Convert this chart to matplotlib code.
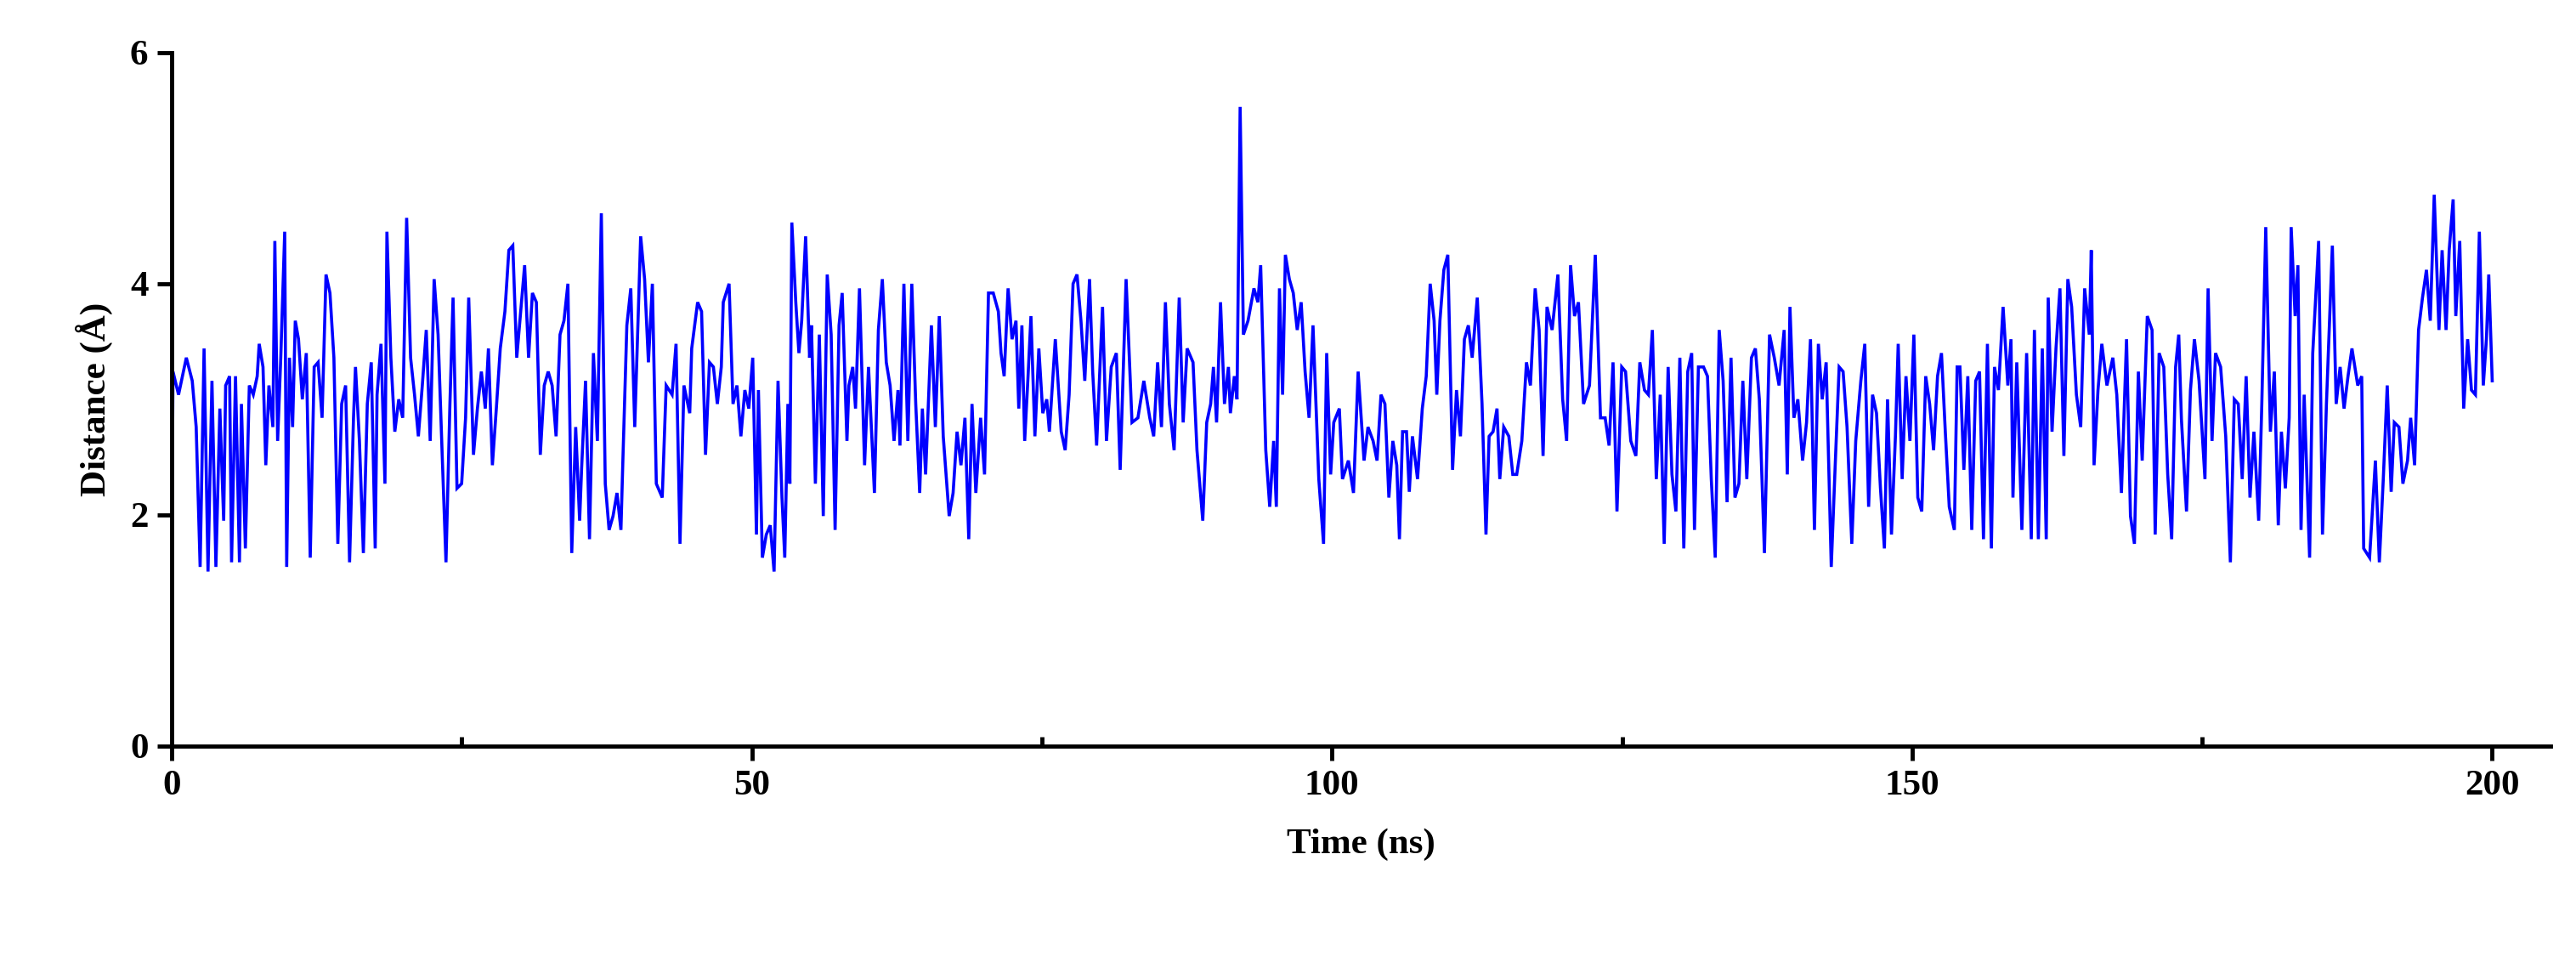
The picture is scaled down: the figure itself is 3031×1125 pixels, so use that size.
import matplotlib
matplotlib.use("Agg")
import matplotlib.pyplot as plt
from matplotlib.ticker import MultipleLocator

time_seg1 = [
0,0.1,0.58,1.25,1.76,2.1,2.44,2.78,3.12,3.46,3.8,4.14,4.47,4.64,4.98,5.15,5.49,5.83,6.0,6.34,6.68,7.02,7.36,7.53,7.86,8.1,8.37,8.71,8.88,9.12,9.39,9.73,9.9,10.14,10.41,10.64,10.92,11.25,11.59,11.93,12.27,12.61,12.95,13.29,13.63,13.97,14.31,14.64,14.98,15.32,15.66,15.83,16.17,16.51,16.85,17.19,17.53,17.69,18.03,18.37,18.54,18.88,19.22,19.56,19.9,20.24,20.58,20.92,21.25,21.59,21.93,22.27,22.61,22.95,23.29,23.63,23.97,24.24,24.58,24.98,25.32,25.59,26.0,26.34,26.68,27.02,27.29,27.63,27.97,28.31,28.71,29.05,29.39,29.73,30.07,30.41,30.75,31.08,31.42,31.76,32.1,32.44,32.78,33.12,33.46,33.8,34.14,34.47,34.81,35.15,35.32,35.66,36.0,36.34,36.68,37.02,37.36,37.69,38.03,38.37,38.71,38.88,39.22,39.56,39.9,40.41,40.75,41.08,41.42,41.76,42.27,42.61,43.12,43.46,43.8,44.14,44.64,44.81,45.32,45.66,46.0,46.34,46.68,47.02,47.36,47.53,48.03,48.37,48.71,49.05,49.39,49.73,50.07]
dist_seg1 = [
1.55,3.24,3.04,3.36,3.16,2.76,1.55,3.44,1.51,3.16,1.55,2.92,1.95,3.12,3.2,1.59,3.2,1.59,2.96,1.71,3.12,3.04,3.2,3.48,3.28,2.43,3.12,2.76,4.37,2.64,3.36,4.45,1.55,3.36,2.76,3.68,3.52,3.0,3.4,1.63,3.28,3.32,2.84,4.08,3.92,3.36,1.75,2.96,3.12,1.59,2.84,3.28,2.64,1.67,2.96,3.32,1.71,3.04,3.48,2.27,4.45,3.36,2.72,3.0,2.84,4.57,3.36,3.04,2.68,3.12,3.6,2.64,4.04,3.56,2.56,1.59,2.96,3.88,2.23,2.27,2.84,3.88,2.52,2.92,3.24,2.92,3.44,2.43,2.92,3.44,3.76,4.29,4.33,3.36,3.76,4.16,3.36,3.92,3.84,2.52,3.12,3.24,3.12,2.68,3.56,3.68,4.0,1.67,2.76,1.95,2.4,3.16,1.79,3.4,2.64,4.61,2.27,1.87,1.99,2.19,1.87,2.48,3.64,3.96,2.76,4.41,4.04,3.32,4.0,2.27,2.15,3.12,3.04,3.48,1.75,3.12,2.88,3.44,3.84,3.76,2.52,3.32,3.28,2.96,3.28,3.84,4.0,2.96,3.12,2.68,3.08,2.92,3.36]

time_seg2 = [
50.39,50.56,50.9,51.24,51.58,51.91,52.25,52.59,52.83,53.1,53.27,53.44,53.78,54.05,54.29,54.63,54.97,55.13,55.47,55.81,56.15,56.49,56.83,57.17,57.51,57.78,58.19,58.36,58.69,58.93,59.27,59.71,60.05,60.56,60.9,61.24,61.58,61.91,62.25,62.59,62.76,63.1,63.44,63.78,64.12,64.46,64.69,64.97,65.47,65.81,66.15,66.49,67.0,67.34,67.68,68.02,68.36,68.69,68.97,69.3,69.71,70.05,70.39,70.8,71.24,71.47,71.74,72.08,72.42,72.76,73.0,73.27,73.51,73.78,74.05,74.39,74.73,75.07,75.41,75.64,76.15,76.66,77.0,77.34,77.68,78.02,78.36,78.69,79.1,79.37,79.71,80.22,80.56,80.97,81.41,81.74,82.25,82.76,83.27,83.78,84.29,84.63,84.97,85.3,85.64,85.98,86.39,86.83,87.17,87.51,88.02,88.36,88.86,89.2,89.54,89.78,90.05,90.39,90.73,91.07,91.24,91.58,91.81,92.08,92.36,92.76,93.27,93.61,93.85,94.29,94.63,94.97,95.2,95.47,95.74,95.98,96.32,96.66,97.0,97.34,97.68,98.02,98.36,98.86,99.27,99.54,99.88,100.15,100.63,100.9,101.41,101.85,102.25,102.76,103.1]
dist_seg2 = [
1.83,3.08,1.63,1.83,1.91,1.51,3.16,2.15,1.63,2.96,2.27,4.53,3.84,3.4,3.68,4.41,3.36,3.64,2.27,3.56,1.99,4.08,3.56,1.87,3.64,3.92,2.64,3.12,3.28,2.92,3.96,2.43,3.28,2.19,3.6,4.04,3.32,3.12,2.64,3.08,2.6,4.0,2.64,4.0,2.96,2.19,2.92,2.35,3.64,2.76,3.72,2.68,1.99,2.19,2.72,2.43,2.84,1.79,2.96,2.19,2.84,2.35,3.92,3.92,3.76,3.4,3.2,3.96,3.52,3.68,2.92,3.64,2.64,3.16,3.72,2.68,3.44,2.88,3.0,2.72,3.52,2.72,2.56,3.04,4.0,4.08,3.68,3.16,4.04,3.24,2.6,3.8,2.64,3.28,3.4,2.39,4.04,2.8,2.84,3.16,2.84,2.68,3.32,2.76,3.84,2.96,2.56,3.88,2.8,3.44,3.32,2.56,1.95,2.8,2.96,3.28,2.8,3.84,2.96,3.28,2.88,3.2,3.0,5.53,3.56,3.68,3.96,3.84,4.16,2.56,2.07,2.64,2.07,3.96,3.04,4.25,4.04,3.92,3.6,3.84,3.24,2.84,3.64,2.31,1.75,3.4,2.35,2.8,2.92,2.31,2.47,2.19,3.24,2.47,2.76]

time_seg3 = [
103.54,103.88,104.22,104.56,104.9,105.24,105.58,105.81,106.08,106.42,106.66,106.93,107.37,107.78,108.12,108.46,108.8,109.03,109.3,109.64,109.98,110.39,110.73,111.07,111.41,111.75,112.08,112.52,112.93,113.27,113.54,113.88,114.22,114.46,114.8,115.24,115.58,115.92,116.36,116.76,117.1,117.51,117.85,118.19,118.53,118.97,119.47,119.88,120.22,120.56,120.9,121.24,121.68,122.19,122.69,123.14,123.54,123.88,124.22,124.56,124.97,125.3,125.75,126.19,126.53,126.93,127.27,127.61,127.95,128.29,128.63,128.97,129.3,129.64,129.98,130.32,130.66,131.0,131.24,131.58,132.02,132.36,132.69,133.03,133.37,133.71,134.05,134.39,134.73,135.07,135.41,135.75,136.15,136.49,136.83,137.27,137.71,138.12,138.53,138.97,139.24,139.47,139.81,140.15,140.56,140.9,141.24,141.58,141.92,142.25,142.59,143.03,143.37,143.71,144.05,144.39,144.8,145.14,145.58,145.92,146.25,146.59,146.93,147.27,147.61,147.88,148.22,148.56,148.8,149.14,149.47,149.81,150.15,150.49,150.83,151.17,151.51,151.85,152.19,152.53,152.86,153.2,153.64,153.88]
dist_seg3 = [
2.64,2.47,3.04,2.96,2.15,2.64,2.43,1.79,2.72,2.72,2.2,2.68,2.31,2.92,3.2,4.0,3.68,3.04,3.68,4.12,4.25,2.39,3.08,2.68,3.52,3.64,3.36,3.88,2.96,1.83,2.68,2.72,2.92,2.31,2.76,2.68,2.35,2.35,2.64,3.32,3.12,3.96,3.6,2.51,3.8,3.6,4.08,3.0,2.64,4.16,3.72,3.84,2.96,3.12,4.25,2.84,2.84,2.6,3.32,2.03,3.28,3.24,2.64,2.51,3.32,3.08,3.04,3.6,2.31,3.04,1.75,3.28,2.35,2.03,3.36,1.71,3.24,3.4,1.87,3.28,3.28,3.2,2.31,1.63,3.6,3.16,2.11,3.36,2.15,2.27,3.16,2.31,3.36,3.44,3.0,1.67,3.56,3.36,3.12,3.6,2.35,3.8,2.84,3.0,2.47,2.8,3.52,1.87,3.48,3.0,3.32,1.55,2.43,3.28,3.24,2.76,1.75,2.64,3.16,3.48,2.07,3.04,2.88,2.23,1.71,3.0,1.83,2.68,3.48,2.31,3.2,2.64,3.56,2.15,2.03,3.2,2.96,2.56,3.2,3.4,2.72,2.07,1.87,3.28]

time_seg4 = [
154.12,154.46,154.8,155.14,155.48,155.81,156.15,156.49,156.83,157.1,157.44,157.84,158.25,158.52,158.69,159.02,159.46,159.87,160.27,160.54,160.88,161.22,161.56,161.73,162.06,162.4,162.74,163.08,163.42,163.75,164.16,164.53,164.87,165.27,165.44,165.68,166.02,166.35,166.79,167.3,167.64,168.04,168.48,168.82,169.16,169.5,169.83,170.27,170.68,170.95,171.29,171.69,172.03,172.37,172.71,172.98,173.21,173.65,173.99,174.33,174.73,175.24,175.51,175.85,176.15,176.59,177.03,177.43,177.77,178.11,178.45,178.79,179.12,179.46,179.87,180.14,180.48,180.88,181.22,181.56,181.83,182.17,182.5,182.67,183.01,183.25,183.52,183.79,184.26,184.53,185.04,185.37,185.71,186.22,186.55,186.89,187.23,187.57,187.91,188.41,188.75,188.92,189.43,189.93,190.27,190.61,190.95,191.29,191.56,191.96,192.3,192.7,192.97,193.31,193.65,193.99,194.33,194.66,195.0,195.41,195.68,196.02,196.29,196.63,196.86,197.2,197.54,197.88,198.21,198.55,198.89,199.23,199.5,199.7,200.0]
dist_seg4 = [
3.28,2.39,3.2,1.87,3.16,3.24,1.79,3.48,1.71,3.28,3.08,3.8,3.12,3.52,2.15,3.32,1.87,3.4,1.79,3.6,1.79,3.44,1.79,3.88,2.72,3.44,3.96,2.51,4.04,3.8,3.04,2.76,3.96,3.56,4.29,2.43,3.08,3.48,3.12,3.36,3.04,2.19,3.52,1.99,1.75,3.24,2.47,3.72,3.6,1.83,3.4,3.28,2.35,1.79,3.28,3.56,2.83,2.03,3.08,3.52,3.16,2.31,3.96,2.64,3.4,3.28,2.68,1.59,3.0,2.96,2.31,3.2,2.15,2.72,1.95,2.96,4.49,2.72,3.24,1.91,2.72,2.23,2.84,4.49,3.72,4.16,1.87,3.04,1.63,3.4,4.37,1.83,2.96,4.33,2.96,3.28,2.92,3.2,3.44,3.12,3.2,1.71,1.63,2.47,1.59,2.31,3.12,2.2,2.8,2.76,2.27,2.47,2.84,2.43,3.6,3.88,4.12,3.68,4.77,3.6,4.29,3.6,4.29,4.73,3.72,4.37,2.92,3.52,3.08,3.04,4.45,3.12,3.52,4.08,3.16]

time_ns, distance_A = [], []
for ts, ds in ((time_seg1, dist_seg1), (time_seg2, dist_seg2),
               (time_seg3, dist_seg3), (time_seg4, dist_seg4)):
    n = min(len(ts), len(ds))
    time_ns += ts[:n]
    distance_A += ds[:n]

FONT = ["Liberation Serif", "DejaVu Serif"]
plt.rcParams["font.family"] = FONT
plt.rcParams["font.weight"] = "bold"

fig = plt.figure(figsize=(30.31, 11.25), dpi=100)
ax = fig.add_axes([0.0667, 0.2196, 0.9233, 0.7254])
ax.plot(time_ns, distance_A, color="#0000ff", lw=2.6, solid_joinstyle="miter")

ax.set_xlim(0, 205)
ax.set_ylim(0, 6)
ax.spines["top"].set_visible(False)
ax.spines["right"].set_visible(False)
for s in ("left", "bottom"):
    ax.spines[s].set_linewidth(3.5)
ax.set_xticks([0, 50, 100, 150, 200])
ax.xaxis.set_minor_locator(MultipleLocator(25))
ax.set_yticks([0, 2, 4, 6])
ax.tick_params(axis="both", which="major", direction="out", length=12, width=3.5,
               labelsize=31, pad=8)
ax.tick_params(axis="x", which="minor", direction="in", length=8, width=3.5)
for lab in ax.get_xticklabels() + ax.get_yticklabels():
    lab.set_fontweight("bold")
ax.set_xlabel("Time (ns)", fontsize=31, fontweight="bold", labelpad=22)
ax.set_ylabel("Distance (Å)", fontsize=31, fontweight="bold", labelpad=14)

fig.savefig("out.png", dpi=100)
